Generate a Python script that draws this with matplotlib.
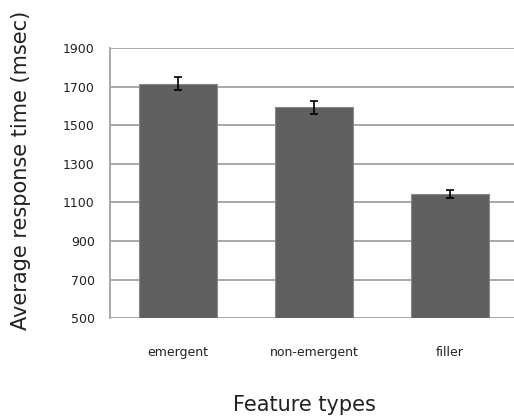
import matplotlib.pyplot as plt

categories = ["emergent", "non-emergent", "filler"]
mean_rt = [1715, 1592, 1145]
err_rt = [33, 32, 20]
yticks = [500, 700, 900, 1100, 1300, 1500, 1700, 1900]

fig = plt.figure(figsize=(5.14, 4.18), dpi=100)
ax = fig.add_axes([0.214, 0.239, 0.794, 0.646])

x = range(len(categories))
ax.bar(x, mean_rt, width=0.57, color="#5f5f5f", edgecolor="#8a8a8a", linewidth=0.8,
       zorder=3)
ax.errorbar(x, mean_rt, yerr=err_rt, fmt="none", ecolor="black", elinewidth=1.2,
            capsize=3, capthick=1.2, zorder=4)

ax.set_ylim(500, 1900)
ax.set_xlim(-0.5, 2.5)
ax.set_yticks(yticks)
ax.set_xticks(list(x))
ax.set_xticklabels(categories)
ax.yaxis.grid(True, color="#a8a8a8", linewidth=1.4, zorder=0)
ax.set_axisbelow(True)

for side in ["top", "right", "bottom"]:
    ax.spines[side].set_visible(False)
ax.spines["left"].set_color("#a8a8a8")
ax.spines["left"].set_linewidth(1.4)

ax.tick_params(axis="y", length=0, pad=11, labelsize=9, labelcolor="#222222")
ax.tick_params(axis="x", length=0, pad=20, labelsize=9, labelcolor="#222222")

fig.text(0.04, 0.593, "Average response time (msec)", rotation=90,
         ha="center", va="center", fontsize=15, color="#222222")
fig.text(0.592, 0.031, "Feature types", ha="center", va="center",
         fontsize=15, color="#222222")

fig.savefig("out.png", dpi=100)
